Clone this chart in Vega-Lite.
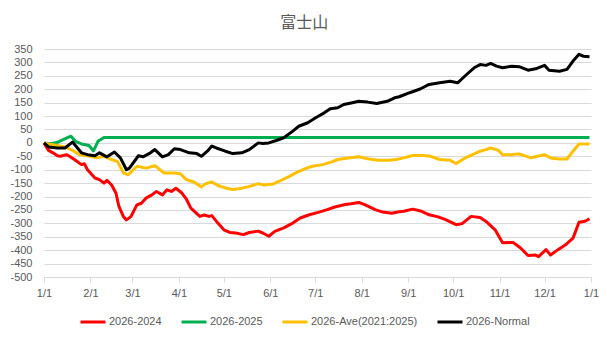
{
  "$schema": "https://vega.github.io/schema/vega-lite/v6.json",
  "autosize": "none",
  "width": 547,
  "height": 228,
  "padding": {"left": 44, "top": 49, "right": 16, "bottom": 64},
  "background": "white",
  "title": {"text": "富士山", "font": "Noto Sans CJK JP", "fontSize": 16, "fontWeight": "normal", "color": "#595959", "anchor": "middle", "frame": "bounds", "offset": 12},
  "config": {
    "locale": {"number": {"decimal": ".", "thousands": ",", "grouping": [3], "currency": ["$", ""], "minus": "-"}},
    "view": {"stroke": null},
    "font": "Liberation Sans"
  },
  "data": {"values": [
    {"s":"2026-2024","d":"2026-01-01","v":0},{"s":"2026-2024","d":"2026-01-04","v":-28},{"s":"2026-2024","d":"2026-01-07","v":-37},{"s":"2026-2024","d":"2026-01-10","v":-48},{"s":"2026-2024","d":"2026-01-12","v":-50},{"s":"2026-2024","d":"2026-01-16","v":-44},{"s":"2026-2024","d":"2026-01-18","v":-50},{"s":"2026-2024","d":"2026-01-22","v":-65},{"s":"2026-2024","d":"2026-01-26","v":-81},{"s":"2026-2024","d":"2026-01-28","v":-78},{"s":"2026-2024","d":"2026-01-30","v":-100},{"s":"2026-2024","d":"2026-02-04","v":-131},{"s":"2026-2024","d":"2026-02-07","v":-137},{"s":"2026-2024","d":"2026-02-10","v":-150},{"s":"2026-2024","d":"2026-02-12","v":-140},{"s":"2026-2024","d":"2026-02-15","v":-156},{"s":"2026-2024","d":"2026-02-18","v":-187},{"s":"2026-2024","d":"2026-02-20","v":-237},{"s":"2026-2024","d":"2026-02-23","v":-275},{"s":"2026-2024","d":"2026-02-25","v":-287},{"s":"2026-2024","d":"2026-02-28","v":-275},{"s":"2026-2024","d":"2026-03-04","v":-231},{"s":"2026-2024","d":"2026-03-07","v":-225},{"s":"2026-2024","d":"2026-03-10","v":-206},{"s":"2026-2024","d":"2026-03-14","v":-194},{"s":"2026-2024","d":"2026-03-17","v":-181},{"s":"2026-2024","d":"2026-03-21","v":-194},{"s":"2026-2024","d":"2026-03-24","v":-175},{"s":"2026-2024","d":"2026-03-27","v":-181},{"s":"2026-2024","d":"2026-03-30","v":-169},{"s":"2026-2024","d":"2026-04-03","v":-187},{"s":"2026-2024","d":"2026-04-06","v":-210},{"s":"2026-2024","d":"2026-04-09","v":-243},{"s":"2026-2024","d":"2026-04-15","v":-274},{"s":"2026-2024","d":"2026-04-18","v":-269},{"s":"2026-2024","d":"2026-04-21","v":-274},{"s":"2026-2024","d":"2026-04-23","v":-271},{"s":"2026-2024","d":"2026-04-27","v":-299},{"s":"2026-2024","d":"2026-05-01","v":-324},{"s":"2026-2024","d":"2026-05-05","v":-334},{"s":"2026-2024","d":"2026-05-09","v":-336},{"s":"2026-2024","d":"2026-05-14","v":-342},{"s":"2026-2024","d":"2026-05-18","v":-334},{"s":"2026-2024","d":"2026-05-24","v":-329},{"s":"2026-2024","d":"2026-05-27","v":-336},{"s":"2026-2024","d":"2026-05-31","v":-348},{"s":"2026-2024","d":"2026-06-04","v":-330},{"s":"2026-2024","d":"2026-06-10","v":-317},{"s":"2026-2024","d":"2026-06-16","v":-299},{"s":"2026-2024","d":"2026-06-21","v":-280},{"s":"2026-2024","d":"2026-06-27","v":-268},{"s":"2026-2024","d":"2026-07-03","v":-259},{"s":"2026-2024","d":"2026-07-09","v":-249},{"s":"2026-2024","d":"2026-07-14","v":-239},{"s":"2026-2024","d":"2026-07-21","v":-230},{"s":"2026-2024","d":"2026-07-25","v":-227},{"s":"2026-2024","d":"2026-07-30","v":-222},{"s":"2026-2024","d":"2026-08-03","v":-230},{"s":"2026-2024","d":"2026-08-10","v":-249},{"s":"2026-2024","d":"2026-08-15","v":-258},{"s":"2026-2024","d":"2026-08-21","v":-262},{"s":"2026-2024","d":"2026-08-25","v":-258},{"s":"2026-2024","d":"2026-08-29","v":-255},{"s":"2026-2024","d":"2026-09-04","v":-247},{"s":"2026-2024","d":"2026-09-10","v":-255},{"s":"2026-2024","d":"2026-09-15","v":-268},{"s":"2026-2024","d":"2026-09-21","v":-276},{"s":"2026-2024","d":"2026-09-26","v":-286},{"s":"2026-2024","d":"2026-10-03","v":-305},{"s":"2026-2024","d":"2026-10-07","v":-301},{"s":"2026-2024","d":"2026-10-13","v":-274},{"s":"2026-2024","d":"2026-10-19","v":-278},{"s":"2026-2024","d":"2026-10-23","v":-293},{"s":"2026-2024","d":"2026-10-29","v":-324},{"s":"2026-2024","d":"2026-11-03","v":-372},{"s":"2026-2024","d":"2026-11-10","v":-371},{"s":"2026-2024","d":"2026-11-15","v":-392},{"s":"2026-2024","d":"2026-11-20","v":-420},{"s":"2026-2024","d":"2026-11-25","v":-418},{"s":"2026-2024","d":"2026-11-27","v":-424},{"s":"2026-2024","d":"2026-12-02","v":-398},{"s":"2026-2024","d":"2026-12-05","v":-418},{"s":"2026-2024","d":"2026-12-10","v":-398},{"s":"2026-2024","d":"2026-12-15","v":-380},{"s":"2026-2024","d":"2026-12-20","v":-355},{"s":"2026-2024","d":"2026-12-24","v":-296},{"s":"2026-2024","d":"2026-12-28","v":-292},{"s":"2026-2024","d":"2026-12-31","v":-283},
    {"s":"2026-2025","d":"2026-01-01","v":0},{"s":"2026-2025","d":"2026-01-05","v":-3},{"s":"2026-2025","d":"2026-01-08","v":0},{"s":"2026-2025","d":"2026-01-10","v":2},{"s":"2026-2025","d":"2026-01-13","v":10},{"s":"2026-2025","d":"2026-01-16","v":18},{"s":"2026-2025","d":"2026-01-19","v":25},{"s":"2026-2025","d":"2026-01-22","v":6},{"s":"2026-2025","d":"2026-01-26","v":-4},{"s":"2026-2025","d":"2026-01-31","v":-10},{"s":"2026-2025","d":"2026-02-03","v":-30},{"s":"2026-2025","d":"2026-02-06","v":6},{"s":"2026-2025","d":"2026-02-10","v":20},{"s":"2026-2025","d":"2026-12-31","v":20},
    {"s":"2026-Ave(2021:2025)","d":"2026-01-01","v":0},{"s":"2026-Ave(2021:2025)","d":"2026-01-05","v":-5},{"s":"2026-Ave(2021:2025)","d":"2026-01-10","v":-10},{"s":"2026-Ave(2021:2025)","d":"2026-01-15","v":-15},{"s":"2026-Ave(2021:2025)","d":"2026-01-20","v":-28},{"s":"2026-Ave(2021:2025)","d":"2026-01-25","v":-44},{"s":"2026-Ave(2021:2025)","d":"2026-02-01","v":-50},{"s":"2026-Ave(2021:2025)","d":"2026-02-05","v":-56},{"s":"2026-Ave(2021:2025)","d":"2026-02-10","v":-50},{"s":"2026-Ave(2021:2025)","d":"2026-02-14","v":-60},{"s":"2026-Ave(2021:2025)","d":"2026-02-19","v":-69},{"s":"2026-Ave(2021:2025)","d":"2026-02-23","v":-112},{"s":"2026-Ave(2021:2025)","d":"2026-02-26","v":-119},{"s":"2026-Ave(2021:2025)","d":"2026-03-04","v":-87},{"s":"2026-Ave(2021:2025)","d":"2026-03-10","v":-94},{"s":"2026-Ave(2021:2025)","d":"2026-03-16","v":-85},{"s":"2026-Ave(2021:2025)","d":"2026-03-22","v":-112},{"s":"2026-Ave(2021:2025)","d":"2026-03-29","v":-112},{"s":"2026-Ave(2021:2025)","d":"2026-04-02","v":-115},{"s":"2026-Ave(2021:2025)","d":"2026-04-06","v":-137},{"s":"2026-Ave(2021:2025)","d":"2026-04-11","v":-146},{"s":"2026-Ave(2021:2025)","d":"2026-04-16","v":-164},{"s":"2026-Ave(2021:2025)","d":"2026-04-19","v":-152},{"s":"2026-Ave(2021:2025)","d":"2026-04-23","v":-146},{"s":"2026-Ave(2021:2025)","d":"2026-04-27","v":-159},{"s":"2026-Ave(2021:2025)","d":"2026-05-02","v":-168},{"s":"2026-Ave(2021:2025)","d":"2026-05-07","v":-174},{"s":"2026-Ave(2021:2025)","d":"2026-05-11","v":-171},{"s":"2026-Ave(2021:2025)","d":"2026-05-17","v":-164},{"s":"2026-Ave(2021:2025)","d":"2026-05-24","v":-152},{"s":"2026-Ave(2021:2025)","d":"2026-05-28","v":-157},{"s":"2026-Ave(2021:2025)","d":"2026-06-03","v":-153},{"s":"2026-Ave(2021:2025)","d":"2026-06-07","v":-143},{"s":"2026-Ave(2021:2025)","d":"2026-06-13","v":-127},{"s":"2026-Ave(2021:2025)","d":"2026-06-18","v":-112},{"s":"2026-Ave(2021:2025)","d":"2026-06-24","v":-97},{"s":"2026-Ave(2021:2025)","d":"2026-06-29","v":-87},{"s":"2026-Ave(2021:2025)","d":"2026-07-06","v":-81},{"s":"2026-Ave(2021:2025)","d":"2026-07-12","v":-71},{"s":"2026-Ave(2021:2025)","d":"2026-07-16","v":-62},{"s":"2026-Ave(2021:2025)","d":"2026-07-23","v":-56},{"s":"2026-Ave(2021:2025)","d":"2026-07-30","v":-52},{"s":"2026-Ave(2021:2025)","d":"2026-08-05","v":-59},{"s":"2026-Ave(2021:2025)","d":"2026-08-12","v":-65},{"s":"2026-Ave(2021:2025)","d":"2026-08-19","v":-65},{"s":"2026-Ave(2021:2025)","d":"2026-08-24","v":-62},{"s":"2026-Ave(2021:2025)","d":"2026-08-29","v":-56},{"s":"2026-Ave(2021:2025)","d":"2026-09-04","v":-47},{"s":"2026-Ave(2021:2025)","d":"2026-09-11","v":-47},{"s":"2026-Ave(2021:2025)","d":"2026-09-16","v":-50},{"s":"2026-Ave(2021:2025)","d":"2026-09-22","v":-62},{"s":"2026-Ave(2021:2025)","d":"2026-09-29","v":-65},{"s":"2026-Ave(2021:2025)","d":"2026-10-03","v":-77},{"s":"2026-Ave(2021:2025)","d":"2026-10-09","v":-56},{"s":"2026-Ave(2021:2025)","d":"2026-10-14","v":-44},{"s":"2026-Ave(2021:2025)","d":"2026-10-19","v":-31},{"s":"2026-Ave(2021:2025)","d":"2026-10-23","v":-25},{"s":"2026-Ave(2021:2025)","d":"2026-10-26","v":-19},{"s":"2026-Ave(2021:2025)","d":"2026-10-31","v":-27},{"s":"2026-Ave(2021:2025)","d":"2026-11-03","v":-44},{"s":"2026-Ave(2021:2025)","d":"2026-11-08","v":-44},{"s":"2026-Ave(2021:2025)","d":"2026-11-14","v":-41},{"s":"2026-Ave(2021:2025)","d":"2026-11-22","v":-56},{"s":"2026-Ave(2021:2025)","d":"2026-11-26","v":-50},{"s":"2026-Ave(2021:2025)","d":"2026-12-01","v":-44},{"s":"2026-Ave(2021:2025)","d":"2026-12-05","v":-56},{"s":"2026-Ave(2021:2025)","d":"2026-12-11","v":-60},{"s":"2026-Ave(2021:2025)","d":"2026-12-16","v":-60},{"s":"2026-Ave(2021:2025)","d":"2026-12-20","v":-31},{"s":"2026-Ave(2021:2025)","d":"2026-12-24","v":-4},{"s":"2026-Ave(2021:2025)","d":"2026-12-31","v":-4},
    {"s":"2026-Normal","d":"2026-01-01","v":0},{"s":"2026-Normal","d":"2026-01-04","v":-15},{"s":"2026-Normal","d":"2026-01-10","v":-19},{"s":"2026-Normal","d":"2026-01-15","v":-19},{"s":"2026-Normal","d":"2026-01-20","v":3},{"s":"2026-Normal","d":"2026-01-26","v":-37},{"s":"2026-Normal","d":"2026-01-30","v":-44},{"s":"2026-Normal","d":"2026-02-04","v":-48},{"s":"2026-Normal","d":"2026-02-07","v":-37},{"s":"2026-Normal","d":"2026-02-12","v":-52},{"s":"2026-Normal","d":"2026-02-17","v":-34},{"s":"2026-Normal","d":"2026-02-21","v":-56},{"s":"2026-Normal","d":"2026-02-25","v":-100},{"s":"2026-Normal","d":"2026-02-27","v":-94},{"s":"2026-Normal","d":"2026-03-05","v":-48},{"s":"2026-Normal","d":"2026-03-08","v":-52},{"s":"2026-Normal","d":"2026-03-13","v":-37},{"s":"2026-Normal","d":"2026-03-16","v":-25},{"s":"2026-Normal","d":"2026-03-21","v":-52},{"s":"2026-Normal","d":"2026-03-25","v":-44},{"s":"2026-Normal","d":"2026-03-29","v":-22},{"s":"2026-Normal","d":"2026-04-02","v":-25},{"s":"2026-Normal","d":"2026-04-08","v":-37},{"s":"2026-Normal","d":"2026-04-13","v":-40},{"s":"2026-Normal","d":"2026-04-16","v":-50},{"s":"2026-Normal","d":"2026-04-20","v":-31},{"s":"2026-Normal","d":"2026-04-23","v":-12},{"s":"2026-Normal","d":"2026-04-26","v":-19},{"s":"2026-Normal","d":"2026-05-02","v":-31},{"s":"2026-Normal","d":"2026-05-07","v":-40},{"s":"2026-Normal","d":"2026-05-13","v":-37},{"s":"2026-Normal","d":"2026-05-18","v":-25},{"s":"2026-Normal","d":"2026-05-24","v":0},{"s":"2026-Normal","d":"2026-05-27","v":-2},{"s":"2026-Normal","d":"2026-05-31","v":0},{"s":"2026-Normal","d":"2026-06-05","v":9},{"s":"2026-Normal","d":"2026-06-10","v":19},{"s":"2026-Normal","d":"2026-06-16","v":44},{"s":"2026-Normal","d":"2026-06-20","v":62},{"s":"2026-Normal","d":"2026-06-26","v":75},{"s":"2026-Normal","d":"2026-07-01","v":93},{"s":"2026-Normal","d":"2026-07-07","v":112},{"s":"2026-Normal","d":"2026-07-11","v":127},{"s":"2026-Normal","d":"2026-07-16","v":131},{"s":"2026-Normal","d":"2026-07-20","v":143},{"s":"2026-Normal","d":"2026-07-25","v":149},{"s":"2026-Normal","d":"2026-07-30","v":155},{"s":"2026-Normal","d":"2026-08-05","v":152},{"s":"2026-Normal","d":"2026-08-11","v":147},{"s":"2026-Normal","d":"2026-08-18","v":155},{"s":"2026-Normal","d":"2026-08-23","v":168},{"s":"2026-Normal","d":"2026-08-26","v":172},{"s":"2026-Normal","d":"2026-09-02","v":187},{"s":"2026-Normal","d":"2026-09-09","v":201},{"s":"2026-Normal","d":"2026-09-15","v":218},{"s":"2026-Normal","d":"2026-09-22","v":224},{"s":"2026-Normal","d":"2026-09-29","v":230},{"s":"2026-Normal","d":"2026-10-04","v":224},{"s":"2026-Normal","d":"2026-10-10","v":255},{"s":"2026-Normal","d":"2026-10-15","v":280},{"s":"2026-Normal","d":"2026-10-19","v":292},{"s":"2026-Normal","d":"2026-10-23","v":289},{"s":"2026-Normal","d":"2026-10-26","v":296},{"s":"2026-Normal","d":"2026-10-30","v":286},{"s":"2026-Normal","d":"2026-11-03","v":280},{"s":"2026-Normal","d":"2026-11-09","v":286},{"s":"2026-Normal","d":"2026-11-14","v":284},{"s":"2026-Normal","d":"2026-11-20","v":271},{"s":"2026-Normal","d":"2026-11-25","v":276},{"s":"2026-Normal","d":"2026-12-01","v":289},{"s":"2026-Normal","d":"2026-12-04","v":271},{"s":"2026-Normal","d":"2026-12-11","v":267},{"s":"2026-Normal","d":"2026-12-16","v":274},{"s":"2026-Normal","d":"2026-12-20","v":305},{"s":"2026-Normal","d":"2026-12-24","v":330},{"s":"2026-Normal","d":"2026-12-27","v":323},{"s":"2026-Normal","d":"2026-12-31","v":321}
  ]},
  "mark": {"type": "line", "strokeWidth": 3, "strokeJoin": "round"},
  "encoding": {
    "x": {
      "field": "d", "type": "temporal",
      "scale": {"type": "utc", "domain": [{"year": 2026, "month": 1, "date": 1, "utc": true}, {"year": 2027, "month": 1, "date": 1, "utc": true}], "nice": false},
      "axis": {"title": null, "format": "%-m/%-d", "tickCount": {"interval": "month", "step": 1}, "grid": false, "domainColor": "#d9d9d9", "tickColor": "#d9d9d9", "tickSize": 5, "labelColor": "#595959", "labelFontSize": 11, "labelPadding": 5, "labelFont": "Liberation Sans", "labelOverlap": false, "labelFlush": false}
    },
    "y": {
      "field": "v", "type": "quantitative",
      "scale": {"domain": [-500, 350], "nice": false, "zero": false},
      "axis": {"title": null, "values": [-500,-450,-400,-350,-300,-250,-200,-150,-100,-50,0,50,100,150,200,250,300,350], "domain": false, "ticks": false, "gridColor": "#d9d9d9", "gridWidth": 1, "labelColor": "#595959", "labelFontSize": 11, "labelPadding": 12, "labelFont": "Liberation Sans"}
    },
    "color": {
      "field": "s", "type": "nominal",
      "scale": {"domain": ["2026-2024", "2026-2025", "2026-Ave(2021:2025)", "2026-Normal"], "range": ["#ff0000", "#00b050", "#ffc000", "#000000"]},
      "legend": {"title": null, "orient": "none", "legendX": 35, "legendY": 259, "direction": "horizontal", "symbolType": "stroke", "symbolSize": 625, "symbolStrokeWidth": 3, "labelColor": "#595959", "labelFontSize": 11, "labelFont": "Liberation Sans", "labelOffset": 2, "columnPadding": 13}
    }
  }
}
